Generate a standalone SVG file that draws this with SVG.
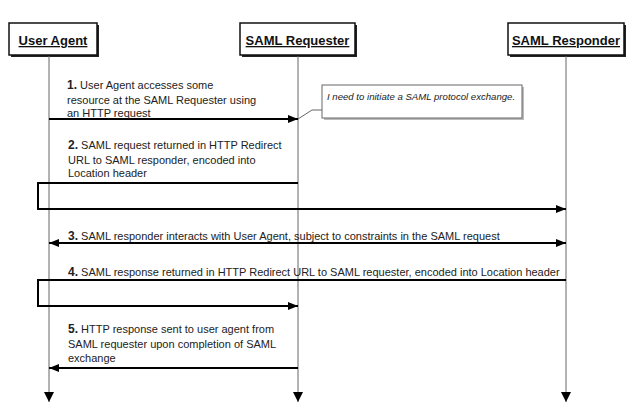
<svg xmlns="http://www.w3.org/2000/svg" width="640" height="418" viewBox="0 0 640 418">
<style>
.hdr{font-family:"Liberation Sans",Arial,sans-serif;font-size:13px;font-weight:bold;text-decoration:underline;fill:#111}
.lbl{font-family:"Liberation Sans",Arial,sans-serif;font-size:11px;fill:#222}
.num{font-weight:bold;font-size:12px}
.note{font-family:"Liberation Sans",Arial,sans-serif;font-size:9.6px;font-style:italic;fill:#222}
.life{stroke:#666;stroke-width:1;fill:none}
.msg{stroke:#000;stroke-width:2;fill:none}
.box{fill:#fff;stroke:#111;stroke-width:1.5}
.shadow{fill:#222}
</style>
<defs>
<marker id="ah" markerWidth="10" markerHeight="8" refX="10" refY="4" orient="auto" markerUnits="userSpaceOnUse">
<path d="M0,0 L10,4 L0,8 Z" fill="#000"/>
</marker>
<marker id="ahs" markerWidth="10" markerHeight="8" refX="0" refY="4" orient="auto" markerUnits="userSpaceOnUse">
<path d="M10,0 L0,4 L10,8 Z" fill="#000"/>
</marker>
<marker id="dn" markerWidth="10" markerHeight="10" refX="10" refY="5" orient="auto" markerUnits="userSpaceOnUse">
<path d="M0,0 L10,5 L0,10 Z" fill="#000"/>
</marker>
</defs>
<rect width="640" height="418" fill="#fff"/>

<g id="user-agent">
<rect class="shadow" x="11" y="25" width="88" height="32"/>
<rect class="box" x="9" y="23" width="88" height="32"/>
<text class="hdr" x="53" y="45" text-anchor="middle">User Agent</text>
</g>
<g id="saml-requester">
<rect class="shadow" x="242" y="25" width="115" height="32"/>
<rect class="box" x="240" y="23" width="115" height="32"/>
<text class="hdr" x="297.5" y="45" text-anchor="middle">SAML Requester</text>
</g>
<g id="saml-responder">
<rect class="shadow" x="510" y="25" width="116" height="32"/>
<rect class="box" x="508" y="23" width="116" height="32"/>
<text class="hdr" x="566" y="45" text-anchor="middle">SAML Responder</text>
</g>
<g id="note">
<rect x="324" y="87" width="200" height="33" fill="#bbb"/>
<rect x="322" y="85" width="200" height="33" fill="#fff" stroke="#666" stroke-width="1"/>
<text class="note" x="327" y="100">I need to initiate a SAML protocol exchange.</text>
</g>

<g id="connectors">
<line class="life" x1="49" y1="56" x2="49" y2="402" marker-end="url(#dn)"/>
<line class="life" x1="298" y1="56" x2="298" y2="402" marker-end="url(#dn)"/>
<line class="life" x1="566" y1="56" x2="566" y2="402" marker-end="url(#dn)"/>
<polyline points="298,119 312,110 322,110" fill="none" stroke="#666" stroke-width="1"/>
<line class="msg" x1="49" y1="119" x2="298" y2="119" marker-end="url(#ah)"/>
<polyline class="msg" points="298,183 38,183 38,209 566,209" marker-end="url(#ah)"/>
<line class="msg" x1="49" y1="243" x2="566" y2="243" marker-start="url(#ahs)" marker-end="url(#ah)"/>
<polyline class="msg" points="566,280 38,280 38,306 298,306" marker-end="url(#ah)"/>
<line class="msg" x1="298" y1="368" x2="49" y2="368" marker-end="url(#ah)"/>
</g>

<g id="labels">
<text class="lbl" x="67" y="89"><tspan class="num">1.</tspan> User Agent accesses some</text>
<text class="lbl" x="67" y="104">resource at the SAML Requester using</text>
<text class="lbl" x="67" y="117">an HTTP request</text>
<text class="lbl" x="68" y="149"><tspan class="num">2.</tspan> SAML request returned in HTTP Redirect</text>
<text class="lbl" x="68" y="164">URL to SAML responder, encoded into</text>
<text class="lbl" x="68" y="177">Location header</text>
<text class="lbl" x="68" y="240"><tspan class="num">3.</tspan> SAML responder interacts with User Agent, subject to constraints in the SAML request</text>
<text class="lbl" x="68" y="276"><tspan class="num">4.</tspan> SAML response returned in HTTP Redirect URL to SAML requester, encoded into Location header</text>
<text class="lbl" x="68" y="333"><tspan class="num">5.</tspan> HTTP response sent to user agent from</text>
<text class="lbl" x="68" y="348">SAML requester upon completion of SAML</text>
<text class="lbl" x="68" y="362">exchange</text>
</g>
</svg>
